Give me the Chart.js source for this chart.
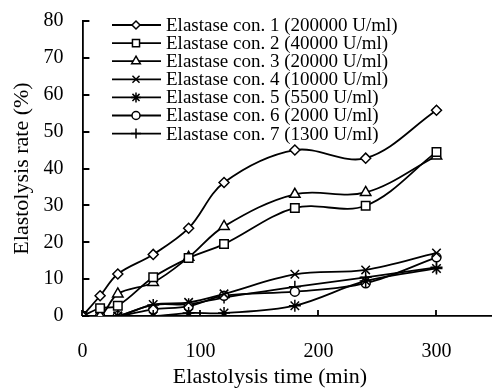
<!DOCTYPE html>
<html>
<head>
<meta charset="utf-8">
<script src="https://cdn.jsdelivr.net/npm/chart.js@4.4.1/dist/chart.umd.min.js"></script>
<style>
  html, body { margin: 0; padding: 0; background: #fff; overflow: hidden; }
  #wrap { width: 492px; height: 388px; overflow: hidden; }
</style>
</head>
<body>
<div id="wrap"><canvas id="myChart" width="503" height="388"></canvas></div>
<script>
// elastolysis time in minutes
const times = [0, 15, 30, 60, 90, 120, 180, 240, 300];

const labels = [
  'Elastase con. 1 (200000 U/ml)',
  'Elastase con. 2 (40000 U/ml)',
  'Elastase con. 3 (20000 U/ml)',
  'Elastase con. 4 (10000 U/ml)',
  'Elastase con. 5 (5500 U/ml)',
  'Elastase con. 6 (2000 U/ml)',
  'Elastase con. 7 (1300 U/ml)'
];

const con1 = [0, 5.5, 11.4, 16.7, 23.8, 36.2, 45.0, 42.8, 55.8];
const con2 = [0, 2.1, 2.8, 10.5, 15.7, 19.5, 29.3, 29.9, 44.5];
const con3 = [0, 0, 6.0, 9.1, 15.9, 24.3, 33.0, 33.5, 43.4];
const con4 = [0, 0, 0, 3.1, 3.7, 6.0, 11.3, 12.5, 17.1];
const con5 = [0, 0, 0, 0, 0.8, 0.8, 2.8, 9.5, 12.9];
const con6 = [0, 0, 0, 1.8, 2.6, 5.5, 6.6, 8.9, 15.9];
const con7 = [0, 0, 0, 3.0, 3.2, 5.0, 7.9, 10.5, 13.2];

const xTicks = [0, 100, 200, 300];
const xTitle = 'Elastolysis time (min)';
const yTitle = 'Elastolysis rate (%)';

const markers = ['rectRot', 'rect', 'triangle', 'crossRot', 'star', 'circle', 'cross'];
const sizes = [5, 6, 6, 6, 6, 4.5, 6];
const legendSizes = [4, 5, 5, 5, 5, 4, 5];

Chart.defaults.font.family = '"Liberation Serif", "Times New Roman", serif';
Chart.defaults.color = '#000';

const series = [con1, con2, con3, con4, con5, con6, con7];

// tick marks point inwards in the original, so draw them here
// (x title also drawn here, it sits left of the axis centre in the original)
const innerTicks = {
  id: 'innerTicks',
  afterDraw(chart) {
    const c = chart.ctx, area = chart.chartArea;
    const xs = chart.scales.x, ys = chart.scales.y;
    c.save();
    c.strokeStyle = '#000';
    c.lineWidth = 1.8;
    c.beginPath();
    xs.ticks.forEach(function (t) {
      let px = Math.round(xs.getPixelForValue(t.value));
      c.moveTo(px, area.bottom);
      c.lineTo(px, area.bottom - 6);
    });
    ys.ticks.forEach(function (t) {
      let py = Math.round(ys.getPixelForValue(t.value));
      c.moveTo(area.left, py);
      c.lineTo(area.left + 7, py);
    });
    c.stroke();
    c.fillStyle = '#000';
    c.font = '22px "Liberation Serif"';
    c.textAlign = 'center';
    c.textBaseline = 'middle';
    c.fillText(xTitle, 270, 377);
    c.restore();
  }
};

// legend drawn as line + marker like the original (excel style)
const lineLegend = {
  id: 'lineLegend',
  afterDraw(chart) {
    const ctx = chart.ctx;
    ctx.save();
    chart.data.datasets.forEach(function (ds, i) {
      let y = 25 + i * 18.1;
      ctx.strokeStyle = '#000';
      ctx.lineWidth = 1.8;
      ctx.beginPath();
      ctx.moveTo(112, y);
      ctx.lineTo(161, y);
      ctx.stroke();
      ctx.fillStyle = '#fff';
      ctx.lineWidth = 1.5;
      Chart.helpers.drawPoint(ctx, {pointStyle: ds.pointStyle, radius: legendSizes[i], borderWidth: 1.5}, 136, y);
      ctx.fillStyle = '#000';
      ctx.font = '19px "Liberation Serif"';
      ctx.textAlign = 'left';
      ctx.textBaseline = 'middle';
      ctx.fillText(ds.label, 166, y + 1);
    });
    ctx.restore();
  }
};

const ctx = document.getElementById('myChart');

new Chart(ctx, {
  type: 'line',
  data: {
    datasets: series.map(function (vals, i) {
      return {
        label: labels[i],
        data: times.map(function (t, j) { return {x: t, y: vals[j]}; }),
        borderColor: '#000',
        borderWidth: 1.8,
        backgroundColor: '#fff',
        pointStyle: markers[i],
        pointRadius: sizes[i],
        pointBorderWidth: 1.5,
        pointBackgroundColor: '#fff',
        pointBorderColor: '#000',
        tension: 0.35,
        fill: false
      };
    })
  },
  options: {
    responsive: false,
    animation: false,
    layout: { padding: { top: 21, left: 0, right: 1, bottom: 24 } },
    plugins: {
      legend: { display: false },
      tooltip: { enabled: false }
    },
    scales: {
      x: {
        type: 'linear',
        min: 0,
        max: 350,
        afterBuildTicks: function (axis) {
          axis.ticks = xTicks.map(function (v) { return {value: v}; });
        },
        grid: { drawOnChartArea: false, tickLength: 24, tickColor: 'rgba(0,0,0,0)' },
        border: { color: '#000', width: 1.8 },
        ticks: { font: { size: 20 }, padding: 0, maxRotation: 0 },
        title: { display: false }
      },
      y: {
        min: 0,
        max: 80,
        grid: { drawOnChartArea: false, tickLength: 19, tickColor: 'rgba(0,0,0,0)' },
        border: { color: '#000', width: 1.8 },
        ticks: { stepSize: 10, font: { size: 20 }, padding: 0 },
        title: { display: true, text: yTitle, font: { size: 22 }, padding: { top: 9, bottom: 8 } }
      }
    }
  },
  plugins: [innerTicks, lineLegend]
});
</script>
</body>
</html>
